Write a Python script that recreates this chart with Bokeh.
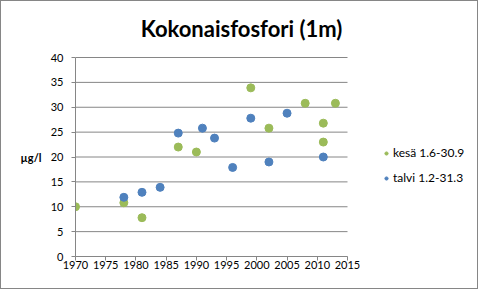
from bokeh.plotting import figure
from bokeh.models import Legend, LegendItem, FixedTicker, Range1d, Label, LinearAxis
from bokeh.embed import file_html
from bokeh.resources import INLINE

kesa_year = [1970, 1978, 1981, 1987, 1990, 1999, 2002, 2008, 2011, 2011, 2013]
kesa_val = [10.0, 10.8, 7.8, 22.0, 21.0, 33.9, 25.8, 30.8, 26.8, 23.0, 30.8]
talvi_year = [1978, 1981, 1984, 1987, 1991, 1993, 1996, 1999, 2002, 2005, 2011]
talvi_val = [11.9, 12.9, 13.9, 24.8, 25.8, 23.8, 17.9, 27.8, 19.0, 28.8, 20.0]
x_ticks = [1970, 1975, 1980, 1985, 1990, 1995, 2000, 2005, 2010, 2015]
y_ticks = [0, 5, 10, 15, 20, 25, 30, 35, 40]
title_text = "Kokonaisfosfori (1m)"
y_label = "µg/l"
kesa_name = "kesä 1.6-30.9"
talvi_name = "talvi 1.2-31.3"

GREEN = "#9BBB59"
BLUE = "#4F81BD"
GRID = "#868686"
FONT = "Lato"

X0, X1 = x_ticks[0], x_ticks[-1]
Y0, Y1 = y_ticks[0], y_ticks[-1]
Y_MID = (Y0 + Y1) / 2
LEFT, RIGHT = 74, 346          # pixel extent of the plotting area (x)
TOP, BOTTOM = 56, 255          # pixel extent of the plotting area (y)
FRAME_RIGHT, FRAME_TOP = 476, 2
px_per_year = (RIGHT - LEFT) / (X1 - X0)
px_per_unit = (BOTTOM - TOP) / (Y1 - Y0)
x_end = X0 + (FRAME_RIGHT - LEFT) / px_per_year
y_end = Y0 + (BOTTOM - FRAME_TOP) / px_per_unit

p = figure(width=478, height=289, output_backend="svg", toolbar_location=None, title=None,
           x_range=Range1d(X0, x_end), y_range=Range1d(Y0, y_end),
           min_border_left=LEFT, min_border_right=478 - FRAME_RIGHT,
           min_border_top=FRAME_TOP, min_border_bottom=289 - BOTTOM,
           styles={"border": "1px solid #868686", "box-sizing": "border-box"})
p.outline_line_color = None
p.background_fill_color = "white"
p.border_fill_color = "white"

p.xgrid.grid_line_color = None
p.ygrid.grid_line_color = None
p.segment(x0=[X0] * len(y_ticks), x1=[X1] * len(y_ticks), y0=y_ticks, y1=y_ticks,
          line_color=GRID, line_width=1)

for ax in (p.xaxis, p.yaxis):
    ax.axis_line_color = GRID
    ax.major_tick_line_color = GRID
    ax.minor_tick_line_color = None
    ax.major_tick_in = 0
    ax.major_tick_out = 4
    ax.major_label_text_font = FONT
    ax.major_label_text_font_size = "11px"
    ax.major_label_text_color = "#000000"
p.xaxis.ticker = FixedTicker(ticks=x_ticks)
p.xaxis.bounds = (X0, X1)
p.yaxis.ticker = FixedTicker(ticks=y_ticks)
p.yaxis.bounds = (Y0, Y1)
p.xaxis.major_label_standoff = 0
p.yaxis.major_label_standoff = 8

# y-axis title, placed level with the middle of the value axis
label_axis = LinearAxis(ticker=FixedTicker(ticks=[Y_MID]), major_label_overrides={Y_MID: y_label},
                        axis_line_color=None, major_tick_line_color=None, minor_tick_line_color=None,
                        major_tick_in=0, major_tick_out=0, major_label_standoff=6,
                        major_label_text_font=FONT, major_label_text_font_size="11px",
                        major_label_text_font_style="bold", major_label_text_color="#000000")
p.add_layout(label_axis, "left")

r1 = p.scatter(kesa_year, kesa_val, size=8, color=GREEN, line_color=GREEN)
r2 = p.scatter(talvi_year, talvi_val, size=8, color=BLUE, line_color=BLUE)

legend = Legend(items=[LegendItem(label=kesa_name, renderers=[r1]),
                       LegendItem(label=talvi_name, renderers=[r2])],
                location=(381 - LEFT, 289 - 184 - (289 - BOTTOM)), border_line_color=None, background_fill_alpha=0,
                label_text_font=FONT, label_text_font_size="12px", label_text_color="#000000",
                glyph_width=8, glyph_height=8, label_standoff=3, spacing=10, padding=0, margin=0)
p.add_layout(legend, "center")

title = Label(x=(X0 + X1) / 2 + (240 - (LEFT + RIGHT) / 2) / px_per_year, y=Y1 + (TOP - 27) / px_per_unit,
              text=title_text, text_font=FONT, text_font_size="22px", text_font_style="bold",
              text_color="#000000", text_align="center", text_baseline="middle")
p.add_layout(title)

open("out.html", "w").write(file_html(p, INLINE))
